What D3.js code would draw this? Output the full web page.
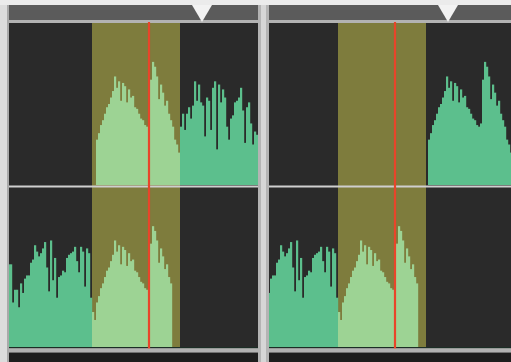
<!DOCTYPE html>
<html>
<head>
<meta charset="utf-8">
<script src="https://cdn.jsdelivr.net/npm/d3@7"></script>
<style>
  body { margin: 0; background: #dedede; }
  svg { display: block; }
</style>
</head>
<body>
<div id="chart"></div>
<script>
// waveform amplitudes (0-1), one value per timeline frame
var clipA = [0.22, 0.17, 0.28, 0.32, 0.37, 0.40, 0.44, 0.48, 0.50, 0.54, 0.58, 0.67, 0.60, 0.64, 0.52, 0.63,
             0.61, 0.51, 0.59, 0.54, 0.55, 0.48, 0.47, 0.44, 0.41, 0.40, 0.37, 0.36, 0.38, 0.65, 0.76, 0.73,
             0.67, 0.53, 0.62, 0.57, 0.49, 0.52, 0.44, 0.40, 0.36, 0.28, 0.25, 0.20];
var clipB = [0.36, 0.44, 0.34, 0.44, 0.48, 0.41, 0.49, 0.64, 0.52, 0.62, 0.51, 0.49, 0.30, 0.54, 0.52, 0.34,
             0.60, 0.64, 0.22, 0.62, 0.51, 0.59, 0.54, 0.36, 0.28, 0.41, 0.43, 0.51, 0.52, 0.54, 0.60, 0.46,
             0.26, 0.48, 0.51, 0.38, 0.25, 0.33, 0.31];
var clipC = [0.52, 0.52, 0.28, 0.36, 0.36, 0.25, 0.40, 0.34, 0.43, 0.45, 0.45, 0.53, 0.55, 0.64, 0.60, 0.57,
             0.59, 0.62, 0.66, 0.50, 0.35, 0.67, 0.42, 0.56, 0.31, 0.44, 0.45, 0.48, 0.47, 0.56, 0.58, 0.59,
             0.60, 0.63, 0.54, 0.47, 0.63, 0.60, 0.38, 0.62, 0.59, 0.31];

// clip placements: [track, clip, start frame, first index, last index]
var beforeClips = [
  ["top", "A", 42, 2, 43],
  ["top", "B", 86, 0, 38],
  ["bottom", "C", 0, 0, 41],
  ["bottom", "A", 42, 0, 39]
];
var afterClips = [
  ["top", "A", 85, 2, 43],
  ["bottom", "C", 0, 0, 41],
  ["bottom", "A", 42, 0, 39]
];
var selection = [42, 86];
var playhead = 70.5;
var marker = 97;

var W = 511, H = 362;
var clips = { A: clipA, B: clipB, C: clipC };

var svg = d3.select("#chart").append("svg")
  .attr("width", W)
  .attr("height", H);

var defs = svg.append("defs");
defs.append("filter").attr("id", "soft")
  .attr("x", "-5%").attr("y", "-5%").attr("width", "110%").attr("height", "110%")
  .append("feGaussianBlur").attr("stdDeviation", 0.75);

// background pieces
svg.append("rect").attr("width", W).attr("height", H).attr("fill", "#dcdcdc");
svg.append("rect").attr("x", 0).attr("y", 0).attr("width", W).attr("height", 5).attr("fill", "#ebebeb");
svg.append("rect").attr("x", 7).attr("y", 5).attr("width", 2).attr("height", H - 5).attr("fill", "#a9a9a9");

var yTop = d3.scaleLinear().domain([0, 1]).range([185, 23]);
var yBottom = d3.scaleLinear().domain([0, 1]).range([347, 188]);
var yScales = { top: yTop, bottom: yBottom };

function samples(list) {
  var out = [];
  list.forEach(function(c) {
    var wave = clips[c[1]];
    for (var i = c[3]; i <= c[4]; i++) {
      out.push({ track: c[0], t: c[2] + i, v: wave[i] });
    }
  });
  return out;
}

function drawPanel(id, origin, x0, x1, list) {
  var x = d3.scaleLinear().domain([0, 125]).range([origin, origin + 250]);

  defs.append("clipPath").attr("id", "clip-" + id)
    .append("rect").attr("x", x0).attr("y", 0).attr("width", x1 - x0).attr("height", H);

  var g = svg.append("g").attr("clip-path", "url(#clip-" + id + ")");

  // header strip
  g.append("rect").attr("x", x0).attr("y", 5).attr("width", x1 - x0).attr("height", 15).attr("fill", "#5b5b5b");
  g.append("rect").attr("x", x0).attr("y", 20).attr("width", x1 - x0).attr("height", 3).attr("fill", "#b3b3b3");

  // play marker notch
  var xm = x(marker);
  g.append("path")
    .attr("d", "M" + (xm - 10) + ",5L" + (xm + 10) + ",5L" + xm + ",22Z")
    .attr("fill", "#f2f2f2");

  var body = g.append("g").attr("filter", "url(#soft)");

  body.append("rect").attr("x", x0).attr("y", 23).attr("width", x1 - x0).attr("height", 325).attr("fill", "#2b2b2b");

  // selected range
  body.append("rect")
    .attr("x", x(selection[0]))
    .attr("y", 23)
    .attr("width", x(selection[1]) - x(selection[0]))
    .attr("height", 325)
    .attr("fill", "#7e7b3d");

  body.selectAll("rect.bar")
    .data(samples(list))
    .enter()
    .append("rect")
    .attr("class", "bar")
    .attr("x", function(d) { return x(d.t); })
    .attr("width", function(d) { return x(d.t + 1) - x(d.t) + 0.2; })
    .attr("y", function(d) { return yScales[d.track](d.v); })
    .attr("height", function(d) { return yScales[d.track](0) - yScales[d.track](d.v); })
    .attr("fill", function(d) {
      return (d.t >= selection[0] && d.t < selection[1]) ? "#9dd394" : "#5cbf8d";
    });

  // track divider and bottom edge
  body.append("rect").attr("x", x0).attr("y", 185.5).attr("width", x1 - x0).attr("height", 2).attr("fill", "#cfcfcf");
  body.append("rect").attr("x", x0).attr("y", 347).attr("width", x1 - x0).attr("height", 1.5).attr("fill", "#1f2f27");
  g.append("rect").attr("x", x0).attr("y", 348.5).attr("width", x1 - x0).attr("height", 4).attr("fill", "#b2b2b2");
  g.append("rect").attr("x", x0).attr("y", 352.5).attr("width", x1 - x0).attr("height", 10).attr("fill", "#1e1e1e");

  // playhead
  body.append("line")
    .attr("x1", x(playhead)).attr("x2", x(playhead))
    .attr("y1", 22).attr("y2", 351)
    .attr("stroke", "#e8452b")
    .attr("stroke-width", 2.2);
}

drawPanel("before", 8, 9, 258, beforeClips);
drawPanel("after", 254, 269, 511, afterClips);

// divider between the two views
svg.append("rect").attr("x", 258).attr("y", 5).attr("width", 11).attr("height", H - 5).attr("fill", "#b4b4b4");
svg.append("rect").attr("x", 261).attr("y", 5).attr("width", 5).attr("height", H - 5).attr("fill", "#d6d6d6");
</script>
</body>
</html>
